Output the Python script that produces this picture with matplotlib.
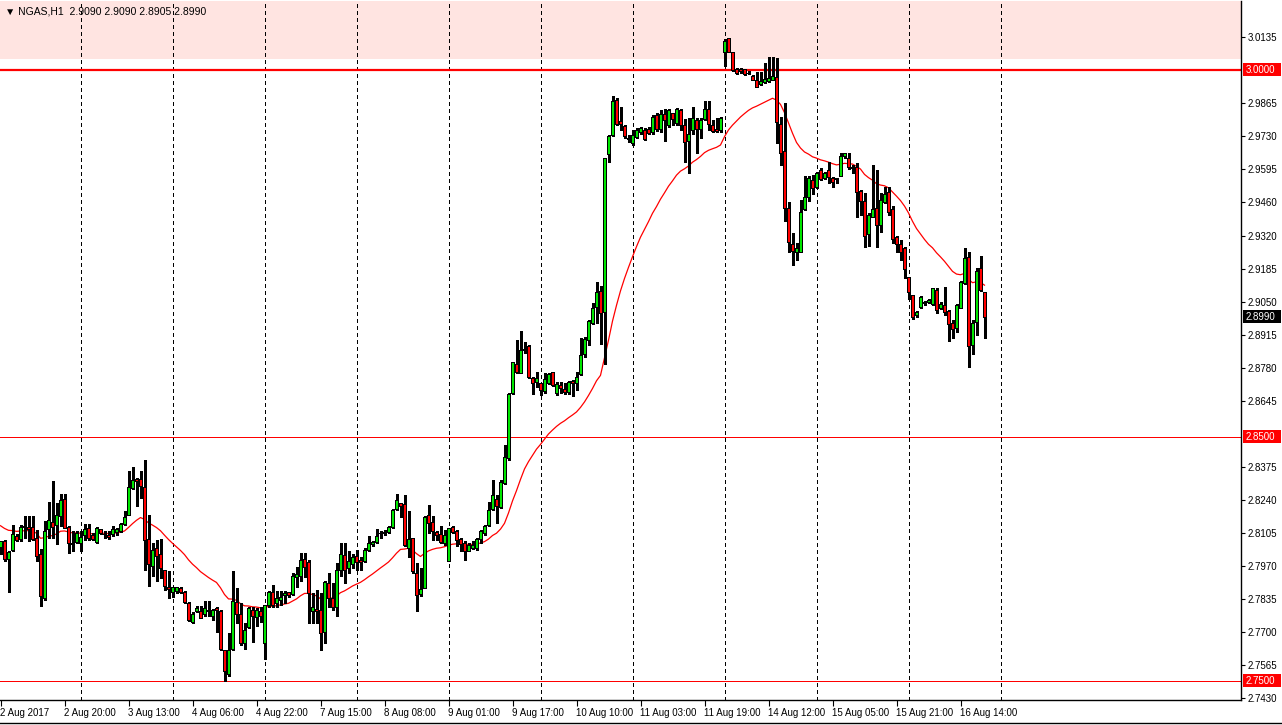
import numpy as np
import matplotlib
matplotlib.use("Agg")
import matplotlib.pyplot as plt
from matplotlib.collections import LineCollection
from matplotlib.patches import Rectangle
from matplotlib.lines import Line2D

plt.rcParams['font.family'] = ['Liberation Sans', 'DejaVu Sans']

symbol = "NGAS,H1"

opens = [2.8046, 2.8073, 2.7997, 2.8035, 2.8094, 2.8082, 2.8135, 2.8131, 2.8131, 2.8084,
         2.8020, 2.7839, 2.8122, 2.8151, 2.8139, 2.8173, 2.8244, 2.8129, 2.8065, 2.8067,
         2.8064, 2.8098, 2.8126, 2.8097, 2.8067, 2.8120, 2.8103, 2.8095, 2.8101, 2.8109,
         2.8112, 2.8144, 2.8177, 2.8289, 2.8325, 2.8325, 2.8293, 2.8080, 2.7972, 2.8043,
         2.8020, 2.7952, 2.7884, 2.7862, 2.7866, 2.7879, 2.7862, 2.7818, 2.7739, 2.7784,
         2.7787, 2.7773, 2.7791, 2.7766, 2.7798, 2.7787, 2.7627, 2.7528, 2.7630, 2.7821,
         2.7774, 2.7654, 2.7720, 2.7791, 2.7761, 2.7787, 2.7657, 2.7811, 2.7863, 2.7818,
         2.7832, 2.7852, 2.7862, 2.7856, 2.7927, 2.7930, 2.7999, 2.7986, 2.7788, 2.7795,
         2.7791, 2.7699, 2.7900, 2.7838, 2.7802, 2.7952, 2.8014, 2.7962, 2.7980, 2.8010,
         2.7993, 2.7989, 2.8037, 2.8061, 2.8067, 2.8104, 2.8105, 2.8109, 2.8128, 2.8203,
         2.8230, 2.8225, 2.8044, 2.8084, 2.7941, 2.7855, 2.7880, 2.8180, 2.8149, 2.8109,
         2.8102, 2.8064, 2.7989, 2.8128, 2.8112, 2.8080, 2.8064, 2.8033, 2.8044, 2.8044,
         2.8080, 2.8105, 2.8139, 2.8203, 2.8244, 2.8211, 2.8309, 2.8411, 2.8677, 2.8797,
         2.8759, 2.8854, 2.8871, 2.8738, 2.8722, 2.8718, 2.8688, 2.8721, 2.8763, 2.8680,
         2.8710, 2.8695, 2.8684, 2.8728, 2.8721, 2.8756, 2.8838, 2.8895, 2.8963, 2.9031,
         2.9097, 2.9011, 2.9656, 2.9734, 2.9879, 2.9792, 2.9772, 2.9720, 2.9702, 2.9727,
         2.9747, 2.9754, 2.9757, 2.9747, 2.9815, 2.9757, 2.9820, 2.9775, 2.9822, 2.9784,
         2.9836, 2.9775, 2.9709, 2.9754, 2.9795, 2.9757, 2.9798, 2.9839, 2.9775, 2.9757,
         2.9754, 3.0074, 3.0129, 3.0072, 3.0006, 3.0006, 3.0002, 2.9989, 2.9975, 2.9961,
         2.9941, 2.9949, 2.9956, 2.9961, 2.9972, 2.9779, 2.9668, 2.9434, 2.9288, 2.9257,
         2.9257, 2.9430, 2.9479, 2.9550, 2.9522, 2.9591, 2.9556, 2.9591, 2.9559, 2.9556,
         2.9567, 2.9648, 2.9638, 2.9601, 2.9601, 2.9505, 2.9464, 2.9327, 2.9397, 2.9434,
         2.9366, 2.9458, 2.9499, 2.9430, 2.9315, 2.9287, 2.9270, 2.9152, 2.9078, 2.8998,
         2.9029, 2.9045, 2.9049, 2.9043, 2.9100, 2.9028, 2.9037, 2.9015, 2.8964, 2.8943,
         2.9028, 2.9127, 2.9233, 2.8874, 2.8968, 2.9188, 2.9090]

highs = [2.8073, 2.8077, 2.8030, 2.8136, 2.8101, 2.8136, 2.8173, 2.8173, 2.8173, 2.8118,
         2.8039, 2.8156, 2.8231, 2.8319, 2.8227, 2.8266, 2.8266, 2.8135, 2.8112, 2.8112,
         2.8112, 2.8143, 2.8143, 2.8105, 2.8128, 2.8123, 2.8112, 2.8112, 2.8132, 2.8125,
         2.8146, 2.8196, 2.8360, 2.8377, 2.8332, 2.8357, 2.8405, 2.8180, 2.8064, 2.8077,
         2.8081, 2.7955, 2.7948, 2.7886, 2.7886, 2.7884, 2.7866, 2.7821, 2.7780, 2.7807,
         2.7807, 2.7825, 2.7825, 2.7793, 2.7804, 2.7791, 2.7627, 2.7695, 2.7948, 2.7879,
         2.7818, 2.7736, 2.7804, 2.7804, 2.7798, 2.7804, 2.7811, 2.7866, 2.7893, 2.7866,
         2.7866, 2.7866, 2.7862, 2.7941, 2.7968, 2.8022, 2.8025, 2.7993, 2.7859, 2.7873,
         2.7859, 2.7907, 2.7941, 2.7900, 2.7982, 2.8064, 2.8064, 2.8030, 2.8020, 2.8037,
         2.8007, 2.8044, 2.8091, 2.8071, 2.8121, 2.8112, 2.8116, 2.8132, 2.8203, 2.8266,
         2.8230, 2.8262, 2.8194, 2.8084, 2.7982, 2.7962, 2.8173, 2.8221, 2.8173, 2.8112,
         2.8132, 2.8119, 2.8125, 2.8132, 2.8119, 2.8085, 2.8071, 2.8064, 2.8071, 2.8084,
         2.8119, 2.8139, 2.8234, 2.8323, 2.8262, 2.8323, 2.8466, 2.8677, 2.8807, 2.8893,
         2.8932, 2.8888, 2.8875, 2.8745, 2.8766, 2.8721, 2.8759, 2.8762, 2.8766, 2.8725,
         2.8725, 2.8718, 2.8728, 2.8732, 2.8766, 2.8902, 2.8909, 2.8977, 2.9045, 2.9134,
         2.9116, 2.9638, 2.9734, 2.9893, 2.9884, 2.9850, 2.9775, 2.9734, 2.9754, 2.9761,
         2.9768, 2.9761, 2.9768, 2.9815, 2.9822, 2.9836, 2.9839, 2.9839, 2.9825, 2.9843,
         2.9839, 2.9798, 2.9802, 2.9850, 2.9802, 2.9802, 2.9874, 2.9874, 2.9795, 2.9802,
         2.9809, 3.0125, 3.0129, 3.0072, 3.0009, 3.0009, 3.0006, 2.9997, 2.9978, 2.9993,
         2.9993, 3.0027, 3.0054, 3.0054, 3.0050, 2.9806, 2.9863, 2.9461, 2.9332, 2.9291,
         2.9468, 2.9566, 2.9566, 2.9570, 2.9584, 2.9597, 2.9584, 2.9625, 2.9563, 2.9559,
         2.9659, 2.9661, 2.9659, 2.9611, 2.9618, 2.9509, 2.9495, 2.9416, 2.9611, 2.9591,
         2.9495, 2.9520, 2.9522, 2.9443, 2.9321, 2.9304, 2.9277, 2.9152, 2.9079, 2.9014,
         2.9075, 2.9056, 2.9062, 2.9109, 2.9109, 2.9052, 2.9113, 2.9018, 2.8977, 2.9041,
         2.9138, 2.9273, 2.9257, 2.8977, 2.9188, 2.9240, 2.9090]

lows = [2.8019, 2.7990, 2.7863, 2.8030, 2.8073, 2.8073, 2.8084, 2.8071, 2.8077, 2.7992,
        2.7805, 2.7832, 2.8084, 2.8084, 2.8060, 2.8132, 2.8125, 2.8023, 2.8030, 2.8064,
        2.8030, 2.8077, 2.8077, 2.8076, 2.8064, 2.8103, 2.8084, 2.8082, 2.8091, 2.8098,
        2.8109, 2.8139, 2.8177, 2.8286, 2.8214, 2.8248, 2.7955, 2.7887, 2.7928, 2.7907,
        2.7921, 2.7873, 2.7840, 2.7845, 2.7859, 2.7859, 2.7818, 2.7746, 2.7736, 2.7780,
        2.7757, 2.7766, 2.7764, 2.7750, 2.7702, 2.7627, 2.7498, 2.7518, 2.7627, 2.7736,
        2.7648, 2.7630, 2.7716, 2.7661, 2.7723, 2.7743, 2.7590, 2.7804, 2.7804, 2.7804,
        2.7811, 2.7818, 2.7845, 2.7852, 2.7886, 2.7907, 2.7927, 2.7736, 2.7736, 2.7736,
        2.7627, 2.7657, 2.7804, 2.7790, 2.7764, 2.7928, 2.7900, 2.7941, 2.7962, 2.7955,
        2.7952, 2.7985, 2.8030, 2.8050, 2.8064, 2.8085, 2.8098, 2.8105, 2.8125, 2.8198,
        2.8170, 2.8053, 2.8006, 2.7941, 2.7785, 2.7846, 2.7880, 2.8105, 2.8075, 2.8078,
        2.8064, 2.8057, 2.7989, 2.8105, 2.8050, 2.8030, 2.7996, 2.8030, 2.8040, 2.8037,
        2.8064, 2.8098, 2.8132, 2.8200, 2.8146, 2.8207, 2.8306, 2.8402, 2.8674, 2.8759,
        2.8759, 2.8841, 2.8739, 2.8674, 2.8704, 2.8670, 2.8680, 2.8715, 2.8708, 2.8670,
        2.8677, 2.8674, 2.8674, 2.8664, 2.8691, 2.8752, 2.8827, 2.8875, 2.8961, 2.8963,
        2.8879, 2.8797, 2.9624, 2.9730, 2.9775, 2.9754, 2.9720, 2.9706, 2.9693, 2.9720,
        2.9740, 2.9713, 2.9738, 2.9740, 2.9752, 2.9747, 2.9711, 2.9768, 2.9775, 2.9775,
        2.9754, 2.9625, 2.9577, 2.9740, 2.9661, 2.9720, 2.9795, 2.9754, 2.9747, 2.9747,
        2.9747, 3.0017, 3.0074, 2.9997, 2.9983, 2.9986, 2.9979, 2.9982, 2.9959, 2.9929,
        2.9938, 2.9945, 2.9952, 2.9959, 2.9700, 2.9611, 2.9382, 2.9257, 2.9202, 2.9223,
        2.9257, 2.9427, 2.9465, 2.9491, 2.9516, 2.9550, 2.9554, 2.9536, 2.9522, 2.9539,
        2.9567, 2.9638, 2.9593, 2.9577, 2.9397, 2.9407, 2.9277, 2.9280, 2.9397, 2.9277,
        2.9338, 2.9454, 2.9407, 2.9291, 2.9257, 2.9223, 2.9148, 2.9062, 2.8983, 2.8991,
        2.9025, 2.9039, 2.9045, 2.9039, 2.9007, 2.9021, 2.8998, 2.8889, 2.8902, 2.8929,
        2.9025, 2.9124, 2.8784, 2.8838, 2.8916, 2.9097, 2.8905]

closes = [2.8073, 2.7997, 2.8027, 2.8101, 2.8076, 2.8131, 2.8128, 2.8120, 2.8082, 2.8011,
          2.7846, 2.8114, 2.8158, 2.8128, 2.8178, 2.8241, 2.8126, 2.8064, 2.8060, 2.8105,
          2.8090, 2.8120, 2.8084, 2.8080, 2.8126, 2.8107, 2.8101, 2.8088, 2.8121, 2.8122,
          2.8143, 2.8171, 2.8293, 2.8323, 2.8316, 2.8296, 2.8077, 2.7978, 2.8035, 2.8012,
          2.7964, 2.7887, 2.7878, 2.7883, 2.7883, 2.7862, 2.7822, 2.7750, 2.7774, 2.7798,
          2.7759, 2.7798, 2.7785, 2.7791, 2.7791, 2.7630, 2.7539, 2.7627, 2.7825, 2.7774,
          2.7654, 2.7709, 2.7798, 2.7764, 2.7791, 2.7764, 2.7811, 2.7862, 2.7811, 2.7838,
          2.7843, 2.7859, 2.7852, 2.7930, 2.7938, 2.7995, 2.7968, 2.7859, 2.7802, 2.7784,
          2.7698, 2.7904, 2.7838, 2.7804, 2.7952, 2.8020, 2.7952, 2.7989, 2.8007, 2.7985,
          2.7988, 2.8037, 2.8064, 2.8067, 2.8094, 2.8105, 2.8109, 2.8129, 2.8200, 2.8241,
          2.8217, 2.8057, 2.8080, 2.7948, 2.7853, 2.7876, 2.8170, 2.8146, 2.8112, 2.8095,
          2.8067, 2.8098, 2.8125, 2.8109, 2.8078, 2.8061, 2.8033, 2.8057, 2.8057, 2.8080,
          2.8112, 2.8135, 2.8200, 2.8262, 2.8214, 2.8313, 2.8418, 2.8674, 2.8803, 2.8763,
          2.8854, 2.8857, 2.8743, 2.8721, 2.8738, 2.8691, 2.8734, 2.8756, 2.8711, 2.8714,
          2.8700, 2.8681, 2.8722, 2.8718, 2.8743, 2.8834, 2.8898, 2.8972, 2.9025, 2.9090,
          2.9007, 2.9638, 2.9730, 2.9873, 2.9779, 2.9777, 2.9730, 2.9716, 2.9734, 2.9754,
          2.9761, 2.9716, 2.9743, 2.9806, 2.9757, 2.9820, 2.9795, 2.9836, 2.9798, 2.9839,
          2.9775, 2.9706, 2.9738, 2.9802, 2.9757, 2.9795, 2.9839, 2.9781, 2.9751, 2.9751,
          2.9802, 3.0118, 3.0074, 2.9999, 2.9986, 2.9997, 2.9982, 2.9986, 2.9961, 2.9931,
          2.9954, 2.9965, 2.9968, 2.9976, 2.9788, 2.9659, 2.9437, 2.9295, 2.9261, 2.9270,
          2.9417, 2.9479, 2.9556, 2.9518, 2.9577, 2.9552, 2.9580, 2.9563, 2.9543, 2.9554,
          2.9648, 2.9659, 2.9601, 2.9597, 2.9499, 2.9465, 2.9322, 2.9407, 2.9430, 2.9366,
          2.9468, 2.9492, 2.9420, 2.9307, 2.9287, 2.9257, 2.9184, 2.9093, 2.8988, 2.9009,
          2.9070, 2.9052, 2.9059, 2.9107, 2.9018, 2.9041, 2.9009, 2.8961, 2.8939, 2.9037,
          2.9131, 2.9229, 2.8871, 2.8966, 2.9178, 2.9099, 2.8990]

ma_start = 2.8135      # moving-average value at the left edge
ma_period = 24

time_labels = ["2 Aug 2017", "2 Aug 20:00", "3 Aug 13:00", "4 Aug 06:00", "4 Aug 22:00",
               "7 Aug 15:00", "8 Aug 08:00", "9 Aug 01:00", "9 Aug 17:00", "10 Aug 10:00",
               "11 Aug 03:00", "11 Aug 19:00", "14 Aug 12:00", "15 Aug 05:00", "15 Aug 21:00",
               "16 Aug 14:00"]
price_ticks = [3.0135, 2.9865, 2.9730, 2.9595, 2.9460, 2.9320, 2.9185, 2.9050, 2.8915,
               2.8780, 2.8645, 2.8375, 2.8240, 2.8105, 2.7970, 2.7835, 2.7700, 2.7565, 2.7430]
level_lines = [3.0000, 2.8500, 2.7500]
zone_bottom = 3.0045

o = np.array(opens); h = np.array(highs); l = np.array(lows); c = np.array(closes)
n = len(c)
xs = np.arange(n)
h = np.maximum(h, np.maximum(o, c))
l = np.minimum(l, np.minimum(o, c))

# exponential moving average of closes
alpha = 2.0 / (ma_period + 1)
ma = np.empty(n)
ma[0] = ma_start
for i in range(1, n):
    ma[i] = ma[i - 1] + alpha * (c[i] - ma[i - 1])

W, H = 1282, 725
fig = plt.figure(figsize=(W / 100, H / 100), dpi=100)
fig.patch.set_facecolor("white")

ax_left, ax_right, ax_top, ax_bot = 0, 1241, 1, 700
ax = fig.add_axes([ax_left / W, 1 - ax_bot / H, (ax_right - ax_left) / W, (ax_bot - ax_top) / H])

ppu = 2443.6
ref_p, ref_y = 3.0135, 37
ytop = ref_p + (ref_y - ax_top) / ppu
ybot = ref_p - (ax_bot - ref_y) / ppu
ax.set_ylim(ybot, ytop)
ax.set_xlim(-0.125, (ax_right - 0.5) / 4)

ax.axhspan(zone_bottom, ytop, color="#FFE4E1", zorder=0, lw=0)

for k in range(20, 260, 23):
    ax.axvline(k, color="black", lw=0.8, ls=(0, (3, 3)), zorder=1, antialiased=False)

ax.axhline(level_lines[0], color="#FF0000", lw=1.6, zorder=2)
ax.axhline(level_lines[1], color="#FF0000", lw=0.72, zorder=2)
ax.axhline(level_lines[2], color="#FF0000", lw=0.72, zorder=2)

ax.plot(xs, ma, color="#FF0000", lw=0.9, zorder=3)

segs = [[(x, lo), (x, hi)] for x, lo, hi in zip(xs, l, h)]
ax.add_collection(LineCollection(segs, colors="black", linewidths=0.75, zorder=4, antialiased=False))
up = c >= o
body_b = np.minimum(o, c)
body_h = np.abs(c - o)
cols = np.where(up, "#00E600", "#FF0000")
ax.bar(xs, body_h, bottom=body_b, width=0.78, color=cols, edgecolor="black",
       linewidth=0.5, zorder=5, antialiased=False)

for s in ["top", "left"]:
    ax.spines[s].set_visible(False)
ax.spines["right"].set_color("black")
ax.spines["bottom"].set_color("black")
ax.spines["right"].set_linewidth(1.0)
ax.spines["bottom"].set_linewidth(1.0)

ax.yaxis.tick_right()
ax.set_yticks(price_ticks)
ax.set_yticklabels([f"{p:.4f}" for p in price_ticks], fontsize=7)
ax.tick_params(axis="y", length=3, width=0.8, pad=2, colors="black")

xt = [16 * i for i in range(len(time_labels))]
ax.set_xticks(xt)
ax.set_xticklabels(time_labels, fontsize=7)
for lbl in ax.get_xticklabels():
    lbl.set_ha("left")
ax.tick_params(axis="x", length=4, width=0.8, pad=2, colors="black")


def price_to_fig(p):
    ypix = ax_top + (ytop - p) / (ytop - ybot) * (ax_bot - ax_top)
    return 1 - ypix / H


def tag(p, face):
    yf = price_to_fig(p)
    fig.patches.append(Rectangle((1243 / W, yf - 6.5 / H), 38 / W, 13 / H,
                                 transform=fig.transFigure, facecolor=face, edgecolor="none", zorder=10))
    fig.text(1246 / W, yf, f"{p:.4f}", color="white", fontsize=7, va="center", ha="left", zorder=11)


for p in level_lines:
    tag(p, "#FF0000")
tag(c[-1], "black")

fig.text(5 / W, 1 - 11 / H, "\u25BC " + symbol + "  " + f"{opens[-1]:.4f} {highs[-1]:.4f} {lows[-1]:.4f} {closes[-1]:.4f}",
         fontsize=7.5, va="center", ha="left", color="black")

fig.add_artist(Line2D([0, 1], [1 - 723 / H, 1 - 723 / H], transform=fig.transFigure, color="black", lw=1))

fig.savefig("out.png", dpi=100)
